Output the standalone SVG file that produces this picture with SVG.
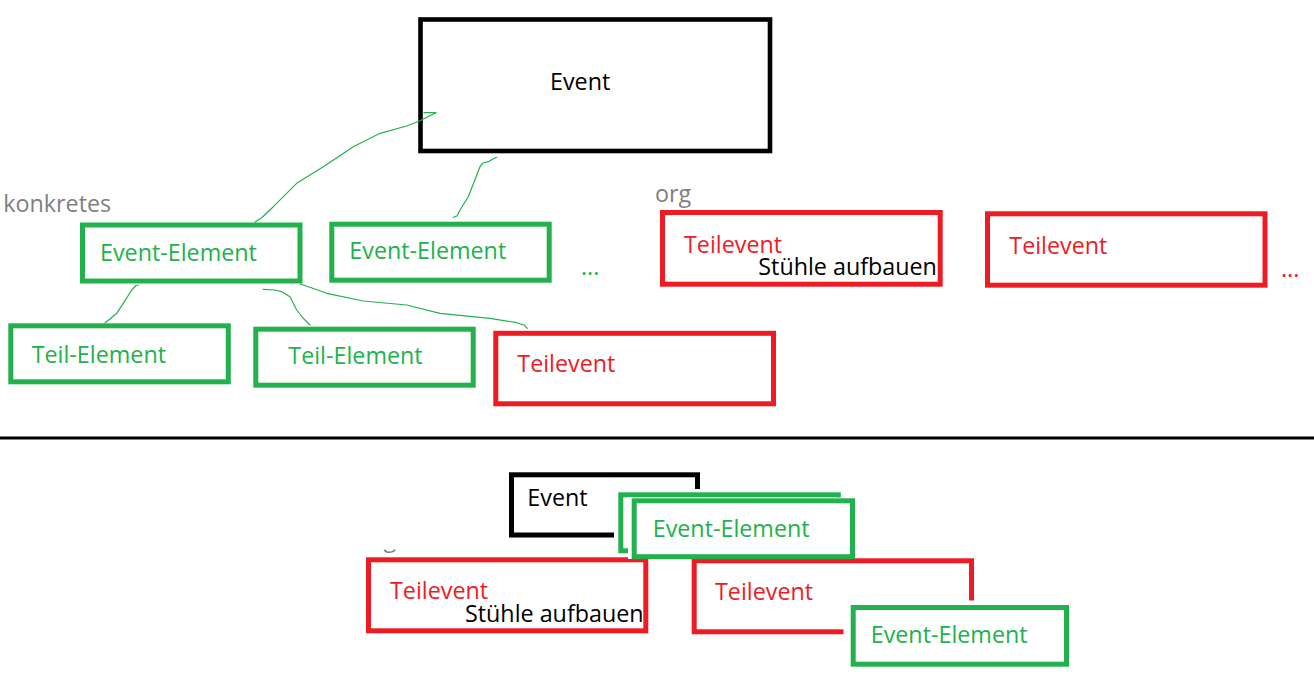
<svg xmlns="http://www.w3.org/2000/svg" width="1314" height="680" viewBox="0 0 1314 680">
<style>
text{font-family:"Open Sans","Noto Sans","Liberation Sans",sans-serif;font-size:23.3px}
.g{fill:none;stroke:#22b14c;stroke-width:5}
.r{fill:none;stroke:#ed1c24;stroke-width:5}
.k{fill:none;stroke:#000;stroke-width:5}
.tg{fill:#22b14c}
.tr{fill:#ed1c24}
.tk{fill:#000}
.ty{fill:#7f7f7f}
.w{fill:#fff}
.c{fill:none;stroke:#22b14c;stroke-width:1.2;stroke-linejoin:round;stroke-linecap:round}
</style>
<defs>
<clipPath id="gcut"><rect x="300" y="549.5" width="200" height="8"/></clipPath>
</defs>
<rect width="1314" height="680" fill="#fff"/>

<g id="event">
<rect x="420.5" y="19.5" width="349.5" height="131.5" fill="none" stroke="#000" stroke-width="4.6"/>
<text x="550" y="90" class="tk">Event</text>
</g>

<text id="label-konkretes" x="3.3" y="212.3" class="ty">konkretes</text>
<text id="label-org" x="655" y="201.5" class="ty">org</text>

<g id="event-element-1">
<rect x="82.5" y="225" width="217.5" height="56" class="g"/>
<text x="100" y="260.7" class="tg">Event-Element</text>
</g>
<g id="event-element-2">
<rect x="331.8" y="224.2" width="217.4" height="56" class="g"/>
<text x="349.3" y="259.3" class="tg">Event-Element</text>
</g>
<text id="more-green" x="581" y="275" class="tg">...</text>

<g id="teil-element-1">
<rect x="10.8" y="325.8" width="217.5" height="56" class="g"/>
<text x="31.7" y="363.3" class="tg">Teil-Element</text>
</g>
<g id="teil-element-2">
<rect x="255.8" y="329.2" width="217.4" height="56" class="g"/>
<text x="288.3" y="364" class="tg">Teil-Element</text>
</g>
<g id="teilevent-mid">
<rect x="495.8" y="333.3" width="277.7" height="70.5" class="r"/>
<text x="517.3" y="372.3" class="tr">Teilevent</text>
</g>
<g id="teilevent-org-1">
<rect x="662.5" y="212.5" width="277.7" height="71.7" class="r"/>
<text x="684" y="252.7" class="tr">Teilevent</text>
<text x="758.3" y="275" class="tk">Stühle aufbauen</text>
</g>
<g id="teilevent-org-2">
<rect x="987.5" y="213.8" width="277.5" height="71.4" class="r"/>
<text x="1009.3" y="254" class="tr">Teilevent</text>
</g>
<text id="more-red" x="1281" y="277.3" class="tr">...</text>

<g id="connectors">
<path class="c" d="M255,222 L262,217.5 L273.3,206.7 L296.7,183.3 L323.3,166.7 L353.3,146.7 L380,133.3 L406.7,126 L420,120.7 L436,112.7 L424,112.7"/>
<path class="c" d="M453.3,217.3 L457,216 L460,210 L468.3,196.7 L480,166.7 L483,163 L488.3,161.7 L493,159 L496.7,157.3"/>
<path class="c" d="M105,322.7 L110,319 L116.7,313.3 L123.3,303.3 L131.7,290 L136,285.5 L138.3,285"/>
<path class="c" d="M263.3,289.3 L275,290 L281.7,291.7 L290,296.7 L296.7,310 L303,318 L310,325"/>
<path class="c" d="M300,284 L312,288 L326.7,293.3 L363.3,301 L406.7,305 L440,313.3 L490,318.3 L516.7,322.7 L524,325 L527.3,328.3"/>
</g>

<line id="separator" x1="0" y1="438" x2="1314" y2="438" stroke="#000" stroke-width="3"/>

<g id="bottom-event">
<rect x="511.5" y="474.8" width="186" height="60.2" class="k"/>
<text x="527.3" y="505.7" class="tk">Event</text>
</g>
<text id="bottom-org-fragment" x="360" y="547" class="ty" clip-path="url(#gcut)">org</text>
<g id="bottom-teilevent-1">
<rect x="368.5" y="559.8" width="277.3" height="71" class="r"/>
<text x="390" y="599" class="tr">Teilevent</text>
<text x="465" y="621.7" class="tk">Stühle aufbauen</text>
</g>
<g id="bottom-event-element-back">
<rect x="614" y="489" width="230" height="68" class="w"/>
<rect x="620.8" y="494.8" width="217.5" height="56" class="g"/>
</g>
<g id="bottom-teilevent-2">
<rect x="694.2" y="560.8" width="277.3" height="71" class="r"/>
<text x="715" y="600" class="tr">Teilevent</text>
</g>
<g id="bottom-event-element-front">
<rect x="628" y="497.5" width="227" height="61.5" class="w"/>
<rect x="634.2" y="500.8" width="218.3" height="55.9" class="g"/>
<text x="652.7" y="536.7" class="tg">Event-Element</text>
</g>
<g id="bottom-event-element-2">
<rect x="843.5" y="600.5" width="230" height="70" class="w"/>
<rect x="853.2" y="607.5" width="213.3" height="56.7" class="g"/>
<text x="870.7" y="642.7" class="tg">Event-Element</text>
</g>
</svg>
